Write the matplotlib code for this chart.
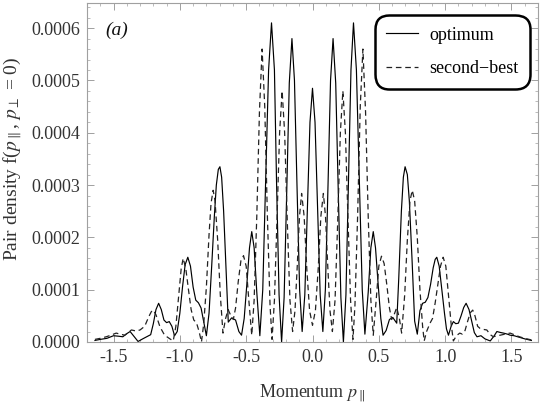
import numpy as np
import matplotlib
matplotlib.use("Agg")
import matplotlib.pyplot as plt
from matplotlib.ticker import MultipleLocator, FormatStrFormatter

plt.rcParams['font.family'] = ['Liberation Serif', 'DejaVu Serif']
plt.rcParams['mathtext.fontset'] = 'stix'

# ---- data (density in units of 1e-4) ----
p_opt = [-1.64, -1.60, -1.55, -1.50, -1.46, -1.43, -1.40, -1.375, -1.35, -1.315,
         -1.28, -1.25, -1.22, -1.20, -1.18, -1.16, -1.14, -1.12, -1.10, -1.08,
         -1.06, -1.04, -1.02, -1.00, -0.98, -0.96, -0.94, -0.92, -0.90, -0.88,
         -0.86, -0.84, -0.80, -0.78, -0.76, -0.74, -0.725, -0.71, -0.698, -0.685,
         -0.67, -0.65, -0.635, -0.61, -0.58, -0.555, -0.535, -0.515, -0.495, -0.475,
         -0.458, -0.44, -0.42, -0.397, -0.375, -0.353, -0.331, -0.309, -0.287, -0.271,
         -0.252, -0.233, -0.214, -0.194, -0.175, -0.155, -0.136, -0.117, -0.097, -0.078,
         -0.058, -0.039, -0.019, 0.0, 0.019, 0.039, 0.058, 0.078, 0.097, 0.117,
         0.136, 0.155, 0.175, 0.194, 0.214, 0.233, 0.252, 0.271, 0.29, 0.309,
         0.331, 0.353, 0.375, 0.395, 0.42, 0.44, 0.458, 0.475, 0.495, 0.515,
         0.532, 0.555, 0.58, 0.605, 0.635, 0.65, 0.67, 0.685, 0.698, 0.715,
         0.73, 0.75, 0.77, 0.79, 0.81, 0.83, 0.85, 0.87, 0.89, 0.91,
         0.925, 0.937, 0.955, 0.975, 0.995, 1.01, 1.025, 1.045, 1.062, 1.08,
         1.10, 1.12, 1.14, 1.158, 1.18, 1.20, 1.22, 1.24, 1.27, 1.30,
         1.34, 1.37, 1.39, 1.42, 1.44, 1.47, 1.49, 1.52, 1.56, 1.60, 1.65]
f_opt = [0.03, 0.05, 0.07, 0.12, 0.11, 0.10, 0.16, 0.20, 0.12, 0.01,
         0.06, 0.10, 0.14, 0.35, 0.62, 0.74, 0.62, 0.42, 0.37, 0.39,
         0.30, 0.12, 0.20, 0.55, 1.05, 1.48, 1.62, 1.45, 1.05, 0.80,
         0.75, 0.65, 0.12, 0.55, 1.45, 2.40, 3.00, 3.30, 3.35, 3.15,
         2.50, 1.30, 0.38, 0.46, 0.42, 0.20, 0.13, 0.45, 1.10, 1.80,
         2.11, 1.80, 0.95, 0.12, 1.00, 3.10, 5.20, 6.10, 5.20, 3.05,
         0.90, 0.00, 0.85, 2.90, 4.95, 5.80, 5.00, 3.00, 1.00, 0.20,
         0.90, 2.50, 4.20, 4.85, 4.20, 2.50, 0.90, 0.20, 1.00, 3.00,
         5.00, 5.80, 4.95, 2.90, 0.85, 0.00, 0.90, 3.05, 5.20, 6.10,
         5.20, 3.10, 1.00, 0.15, 0.95, 1.80, 2.11, 1.80, 1.10, 0.45,
         0.13, 0.22, 0.43, 0.47, 0.36, 1.20, 2.50, 3.15, 3.35, 3.20,
         2.70, 1.60, 0.40, 0.15, 0.60, 0.74, 0.76, 0.85, 1.10, 1.42,
         1.58, 1.62, 1.45, 1.00, 0.55, 0.25, 0.13, 0.30, 0.39, 0.35,
         0.36, 0.50, 0.66, 0.74, 0.62, 0.40, 0.18, 0.10, 0.12, 0.06,
         0.02, 0.12, 0.20, 0.18, 0.17, 0.15, 0.13, 0.12, 0.09, 0.06, 0.03]

p_sec = [-1.64, -1.60, -1.555, -1.52, -1.48, -1.45, -1.415, -1.39, -1.365, -1.33,
         -1.30, -1.265, -1.235, -1.215, -1.20, -1.18, -1.15, -1.115, -1.075, -1.05,
         -1.03, -1.01, -0.99, -0.975, -0.955, -0.935, -0.915, -0.895, -0.875, -0.855,
         -0.837, -0.82, -0.80, -0.78, -0.765, -0.749, -0.735, -0.715, -0.695, -0.675,
         -0.655, -0.636, -0.615, -0.597, -0.58, -0.56, -0.54, -0.52, -0.50, -0.48,
         -0.458, -0.44, -0.42, -0.40, -0.38, -0.36, -0.34, -0.32, -0.305, -0.287,
         -0.267, -0.248, -0.229, -0.21, -0.19, -0.17, -0.15, -0.132, -0.115, -0.098,
         -0.082, -0.063, -0.043, -0.022, 0.0, 0.022, 0.043, 0.063, 0.082, 0.098,
         0.115, 0.132, 0.15, 0.17, 0.19, 0.21, 0.229, 0.248, 0.267, 0.287,
         0.305, 0.32, 0.34, 0.36, 0.38, 0.40, 0.42, 0.44, 0.458, 0.48,
         0.50, 0.52, 0.54, 0.56, 0.58, 0.597, 0.615, 0.635, 0.655, 0.672,
         0.695, 0.715, 0.735, 0.752, 0.77, 0.79, 0.81, 0.83, 0.842, 0.86,
         0.886, 0.905, 0.925, 0.945, 0.965, 0.985, 1.005, 1.025, 1.045, 1.062,
         1.085, 1.11, 1.13, 1.15, 1.17, 1.19, 1.208, 1.225, 1.245, 1.263,
         1.29, 1.314, 1.34, 1.364, 1.39, 1.415, 1.45, 1.49, 1.52, 1.56, 1.60, 1.65]
f_sec = [0.05, 0.07, 0.10, 0.13, 0.17, 0.15, 0.13, 0.18, 0.23, 0.21,
         0.23, 0.30, 0.48, 0.58, 0.61, 0.52, 0.29, 0.13, 0.06, 0.02,
         0.30, 0.85, 1.40, 1.60, 1.40, 1.00, 0.62, 0.42, 0.37, 0.20,
         0.00, 0.35, 1.05, 2.05, 2.65, 2.90, 2.70, 1.95, 0.90, 0.17,
         0.45, 0.62, 0.50, 0.43, 0.65, 1.15, 1.55, 1.65, 1.45, 0.80,
         0.13, 0.80, 2.40, 4.40, 5.60, 4.50, 2.40, 0.70, 0.05, 0.80,
         2.40, 4.00, 4.80, 4.00, 2.30, 0.80, 0.20, 0.60, 1.45, 2.40,
         2.84, 2.40, 1.40, 0.60, 0.32, 0.60, 1.40, 2.40, 2.84, 2.40,
         1.45, 0.60, 0.20, 0.80, 2.30, 4.00, 4.80, 4.00, 2.40, 0.80,
         0.05, 0.70, 2.40, 4.50, 5.60, 4.40, 2.40, 0.80, 0.13, 0.80,
         1.45, 1.64, 1.50, 1.10, 0.65, 0.43, 0.52, 0.66, 0.45, 0.17,
         0.90, 1.95, 2.70, 2.90, 2.70, 2.00, 1.00, 0.30, 0.02, 0.20,
         0.36, 0.45, 0.75, 1.10, 1.45, 1.62, 1.45, 0.90, 0.35, 0.02,
         0.12, 0.17, 0.15, 0.22, 0.40, 0.56, 0.61, 0.50, 0.30, 0.26,
         0.24, 0.23, 0.14, 0.10, 0.12, 0.13, 0.15, 0.17, 0.14, 0.10, 0.07, 0.04]

x_ticks = [-1.5, -1.0, -0.5, 0.0, 0.5, 1.0, 1.5]
labels = ["optimum", "second\u2212best"]

fig = plt.figure(figsize=(5.42, 4.05), dpi=100)
ax = fig.add_axes([87/542, 63/405, 451/542, 339/405])

ax.plot(p_opt, np.array(f_opt) * 1e-4, color='black', lw=0.85, label=labels[0])
ax.plot(p_sec, np.array(f_sec) * 1e-4, color='#222222', lw=0.9, dashes=(4.5, 3),
        label=labels[1])

ax.set_xlim(-1.70, 1.70)
ax.set_ylim(0, 0.000648)
ax.set_xticks(x_ticks)
ax.xaxis.set_minor_locator(MultipleLocator(0.1))
ax.yaxis.set_major_locator(MultipleLocator(0.0001))
ax.yaxis.set_minor_locator(MultipleLocator(0.00002))
ax.xaxis.set_major_formatter(FormatStrFormatter('%.1f'))
ax.yaxis.set_major_formatter(FormatStrFormatter('%.4f'))

frame_col = '#a0a0a0'
for s in ax.spines.values():
    s.set_color(frame_col)
    s.set_linewidth(0.8)
ax.tick_params(which='both', direction='in', top=True, right=True, color=frame_col,
               labelsize=13, labelcolor='#333333')
ax.tick_params(which='major', length=5, width=0.7, pad=5)
ax.tick_params(which='minor', length=2.5, width=0.5)
ax.tick_params(axis='x', labeltop=False)
ax.tick_params(axis='y', labelright=False)

ax.set_xlabel(r"Momentum $p_{\parallel}$", fontsize=13, color='#333333', labelpad=12)
ax.set_ylabel(r"Pair density f($p_{\parallel}$, $p_{\perp}$ = 0)", fontsize=14,
              color='#333333')
ax.yaxis.set_label_coords(-0.14, 0.54)

ax.text(0.04, 0.92, "(a)", transform=ax.transAxes, fontsize=14, style='italic',
        ha='left', va='center', color='#111111')

leg = ax.legend(loc='upper right', bbox_to_anchor=(0.982, 0.965), borderaxespad=0,
                fontsize=13, frameon=True, fancybox=True, handlelength=1.75,
                labelspacing=0.9, borderpad=0.65, handletextpad=0.6, framealpha=1)
leg.get_frame().set_edgecolor('black')
leg.get_frame().set_linewidth(1.8)
leg.get_frame().set_boxstyle('round,pad=0,rounding_size=0.8')

fig.savefig("out.png", dpi=100)
